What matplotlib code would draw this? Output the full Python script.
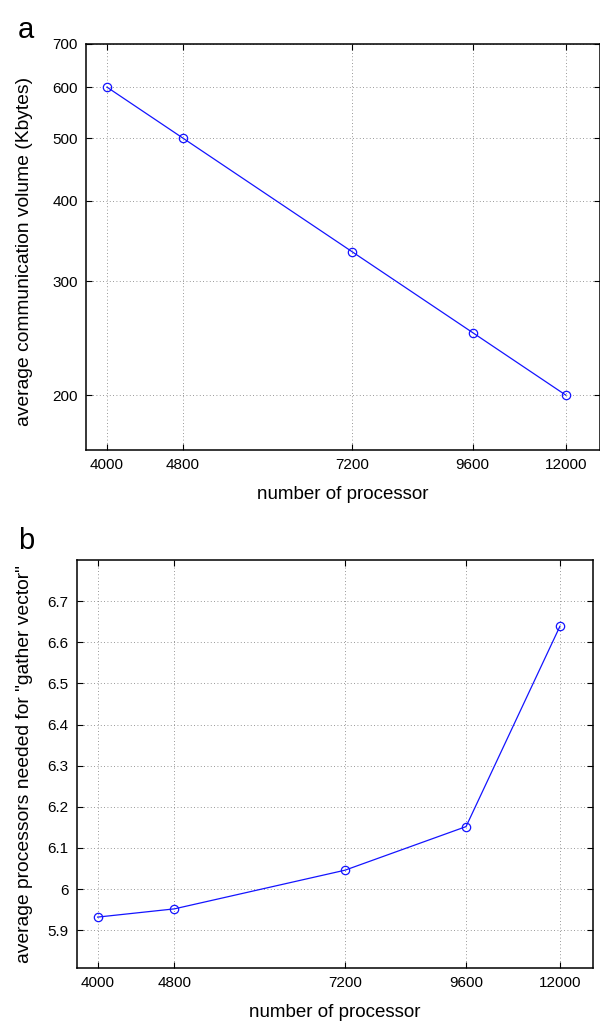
import numpy as np
import matplotlib
matplotlib.use("Agg")
import matplotlib.pyplot as plt
from matplotlib.ticker import FixedLocator, FixedFormatter, NullLocator

# ---- data ------------------------------------------------------------------
procs = [4000, 4800, 7200, 9600, 12000]
comm_volume = [600, 500, 333.3, 250, 200]          # Kbytes
gather_procs = [5.932, 5.952, 6.046, 6.152, 6.639]

x_ticks = [4000, 4800, 7200, 9600, 12000]
x_ticklabels = ["4000", "4800", "7200", "9600", "12000"]
a_yticks = [200, 300, 400, 500, 600, 700]
b_yticks = [5.9, 6.0, 6.1, 6.2, 6.3, 6.4, 6.5, 6.6, 6.7]
b_yticklabels = ["5.9", "6", "6.1", "6.2", "6.3", "6.4", "6.5", "6.6", "6.7"]

LINE = "#1414ff"
plt.rcParams.update({"font.family": ["Liberation Sans", "DejaVu Sans"], "font.size": 11})

fig = plt.figure(figsize=(6.0, 10.21), dpi=100)
ax_a = fig.add_axes([0.1433, 0.5593, 0.856, 0.3977])
ax_b = fig.add_axes([0.1278, 0.0522, 0.8605, 0.3993])


def style(ax):
    ax.set_xscale("log")
    ax.xaxis.set_major_locator(FixedLocator(x_ticks))
    ax.xaxis.set_major_formatter(FixedFormatter(x_ticklabels))
    ax.xaxis.set_minor_locator(NullLocator())
    ax.yaxis.set_minor_locator(NullLocator())
    ax.tick_params(which="both", direction="in", top=True, right=True,
                   length=4, width=0.8, labelsize=11, pad=6)
    ax.grid(True, ls=(0, (1, 3)), color="#777777", lw=0.6)
    for sp in ax.spines.values():
        sp.set_linewidth(1.1)
    ax.set_xlabel("number of processor", fontsize=13.5, labelpad=10)


# ---- panel a ----------------------------------------------------------------
ax_a.plot(procs, comm_volume, "-o", color=LINE, lw=0.9, ms=6, mfc="none", mew=0.9)
style(ax_a)
ax_a.set_yscale("log")
ax_a.yaxis.set_major_locator(FixedLocator(a_yticks))
ax_a.yaxis.set_major_formatter(FixedFormatter([str(v) for v in a_yticks]))
ax_a.yaxis.set_minor_locator(NullLocator())
ax_a.set_xlim(3804, 13010)
ax_a.set_ylim(164.5, 700)
ax_a.set_ylabel("average communication volume (Kbytes)", fontsize=13.9)
ax_a.yaxis.set_label_coords(-0.103, 0.49)
fig.text(0.03, 0.963, "a", fontsize=21)

# ---- panel b ----------------------------------------------------------------
ax_b.plot(procs, gather_procs, "-o", color=LINE, lw=0.9, ms=6, mfc="none", mew=0.9)
style(ax_b)
ax_b.yaxis.set_major_locator(FixedLocator(b_yticks))
ax_b.yaxis.set_major_formatter(FixedFormatter(b_yticklabels))
ax_b.set_xlim(3806, 12980)
ax_b.set_ylim(5.809, 6.8)
ax_b.set_ylabel('average processors needed for "gather vector"', fontsize=13.9)
ax_b.yaxis.set_label_coords(-0.085, 0.5)
fig.text(0.03, 0.462, "b", fontsize=21)

fig.savefig("out.png", dpi=100, facecolor="white")
